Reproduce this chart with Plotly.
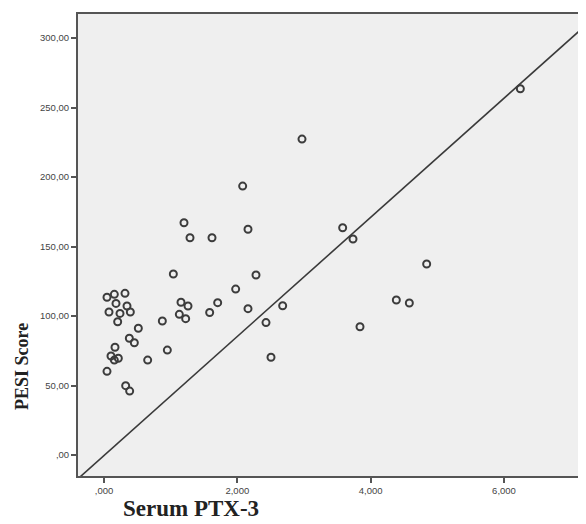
import plotly.graph_objects as go

# Data (Serum PTX-3 vs PESI Score)
ptx3 = [6.245, 2.970, 2.080, 1.200, 1.290, 1.620, 2.160, 3.580, 3.735, 4.840,
        1.040, 2.280, 1.975, 0.045, 0.155, 0.315, 0.180, 0.345, 0.075, 0.240,
        0.395, 0.205, 0.515, 0.875, 1.155, 1.260, 1.130, 1.225, 1.585, 1.705,
        2.160, 2.680, 2.430, 4.385, 4.580, 3.840, 2.505, 0.380, 0.455, 0.165,
        0.105, 0.215, 0.155, 0.655, 0.950, 0.045, 0.325, 0.385]
pesi = [263.5, 227.3, 193.5, 167.1, 156.3, 156.3, 162.4, 163.5, 155.4, 137.4,
        130.2, 129.5, 119.4, 113.5, 115.6, 116.3, 109.1, 107.2, 102.9, 101.9,
        102.9, 95.9, 91.2, 96.4, 109.9, 107.2, 101.2, 98.1, 102.5, 109.6,
        105.3, 107.4, 95.3, 111.5, 109.4, 92.3, 70.3, 84.0, 80.8, 77.5,
        71.2, 69.6, 68.3, 68.3, 75.5, 60.2, 49.9, 46.0]

# Reference line endpoints (data units)
ref_x = [-0.36, 7.23]
ref_y = [-15.8, 309.4]

x_tickvals = [0, 2, 4, 6]
x_ticktext = [",000", "2,000", "4,000", "6,000"]
y_tickvals = [0, 50, 100, 150, 200, 250, 300]
y_ticktext = [",00", "50,00", "100,00", "150,00", "200,00", "250,00", "300,00"]

fig = go.Figure()
fig.add_trace(go.Scatter(x=ref_x, y=ref_y, mode="lines",
                         line=dict(color="#3a3a3a", width=1.6),
                         hoverinfo="skip", showlegend=False))
fig.add_trace(go.Scatter(x=ptx3, y=pesi, mode="markers",
                         marker=dict(symbol="circle-open", size=7, color="#3c3c3c",
                                     line=dict(color="#3c3c3c", width=2)),
                         showlegend=False))

axis_font = dict(family="Liberation Sans, Arial, sans-serif", size=9.5, color="#444444")
fig.update_layout(
    width=578, height=516, autosize=False,
    margin=dict(l=70, r=0, t=6, b=48, pad=0),
    paper_bgcolor="white",
    plot_bgcolor="#efefef",
    xaxis=dict(range=[-0.39, 7.23], tickvals=x_tickvals, ticktext=x_ticktext,
               showgrid=False, zeroline=False, showline=True, mirror=True,
               linecolor="#555555", linewidth=2, ticks="outside", ticklen=5,
               tickcolor="#555555", tickwidth=1.5, tickfont=axis_font),
    yaxis=dict(range=[-15.1, 317.3], tickvals=y_tickvals, ticktext=y_ticktext,
               showgrid=False, zeroline=False, showline=True,
               linecolor="#555555", linewidth=2, ticks="outside", ticklen=5,
               tickcolor="#555555", tickwidth=1.5, tickfont=axis_font),
    annotations=[
        dict(text="<b>Serum PTX-3</b>", xref="paper", yref="paper",
             x=(191 - 78) / 508, y=-(508 - 476) / 462, xanchor="center", yanchor="middle",
             showarrow=False,
             font=dict(family="Liberation Serif, Times New Roman, serif", size=23, color="#222222")),
        dict(text="<b>PESI Score</b>", xref="paper", yref="paper",
             x=-(78 - 22) / 508, y=(476 - 367) / 462, xanchor="center", yanchor="middle",
             textangle=-90, showarrow=False,
             font=dict(family="Liberation Serif, Times New Roman, serif", size=18, color="#222222")),
    ],
)

fig.write_html("out.html", config={"responsive": False})
